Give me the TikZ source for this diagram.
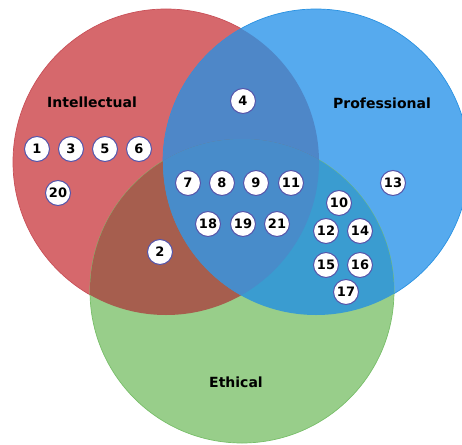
\documentclass[tikz,border=0pt]{standalone}
\usepackage{fontspec}
\setmainfont{DejaVu Sans}
\definecolor{cRed}{RGB}{214,104,108}
\definecolor{cRedE}{RGB}{200,80,88}
\definecolor{cBlue}{RGB}{86,170,238}
\definecolor{cBlueE}{RGB}{40,145,225}
\definecolor{cGreen}{RGB}{152,206,138}
\definecolor{cGreenE}{RGB}{120,190,105}
\definecolor{cRB}{RGB}{78,135,200}
\definecolor{cRG}{RGB}{166,94,78}
\definecolor{cBG}{RGB}{58,156,208}
\definecolor{cRBG}{RGB}{72,140,202}
\definecolor{numE}{RGB}{85,85,170}
\tikzset{
  num/.style={circle,draw=numE,line width=1pt,fill=white,minimum size=25pt,inner sep=0pt,font=\fontsize{13}{13}\bfseries},
  setlbl/.style={font=\fontsize{14}{14}\bfseries,text=black}
}
\begin{document}
\begin{tikzpicture}[x=1pt,y=-1pt]
\useasboundingbox (0,0) rectangle (462,444);
\coordinate (cR) at (166,162);
\coordinate (cB) at (316,162);
\coordinate (cG) at (242,291);
\def\rr{153pt}
\def\rg{152pt}
% base circles
\fill[cRed,draw=cRedE,line width=0.7pt] (cR) circle[radius=\rr];
\fill[cBlue,draw=cBlueE,line width=0.7pt] (cB) circle[radius=\rr];
\fill[cGreen,draw=cGreenE,line width=0.7pt] (cG) circle[radius=\rg];
% pairwise overlaps
\begin{scope}
  \clip (cR) circle[radius=\rr];
  \fill[cRB] (cB) circle[radius=\rr];
  \fill[cRG] (cG) circle[radius=\rg];
\end{scope}
\begin{scope}
  \clip (cB) circle[radius=\rr];
  \fill[cBG] (cG) circle[radius=\rg];
\end{scope}
\begin{scope}
  \clip (cR) circle[radius=\rr];
  \clip (cB) circle[radius=\rr];
  \fill[cRBG] (cG) circle[radius=\rg];
\end{scope}
% labels
\node[setlbl] (lI) at (92,102) {Intellectual};
\node[setlbl] (lP) at (382,103) {Professional};
\node[setlbl] (lE) at (236,382) {Ethical};
% numbers
\node[num] (n1) at (37,149) {1};
\node[num] (n3) at (71,149) {3};
\node[num] (n5) at (105,149) {5};
\node[num] (n6) at (139,149) {6};
\node[num] (n20) at (58,193) {20};
\node[num] (n4) at (243,101) {4};
\node[num] (n7) at (188,183) {7};
\node[num] (n8) at (222,183) {8};
\node[num] (n9) at (256,183) {9};
\node[num] (n11) at (291,183) {11};
\node[num] (n18) at (208,224) {18};
\node[num] (n19) at (243,224) {19};
\node[num] (n21) at (277,224) {21};
\node[num] (n2) at (160,252) {2};
\node[num] (n13) at (393,183) {13};
\node[num] (n10) at (339,203) {10};
\node[num] (n12) at (326,231) {12};
\node[num] (n14) at (360,231) {14};
\node[num] (n15) at (326,265) {15};
\node[num] (n16) at (360,265) {16};
\node[num] (n17) at (346,292) {17};
\end{tikzpicture}
\end{document}
